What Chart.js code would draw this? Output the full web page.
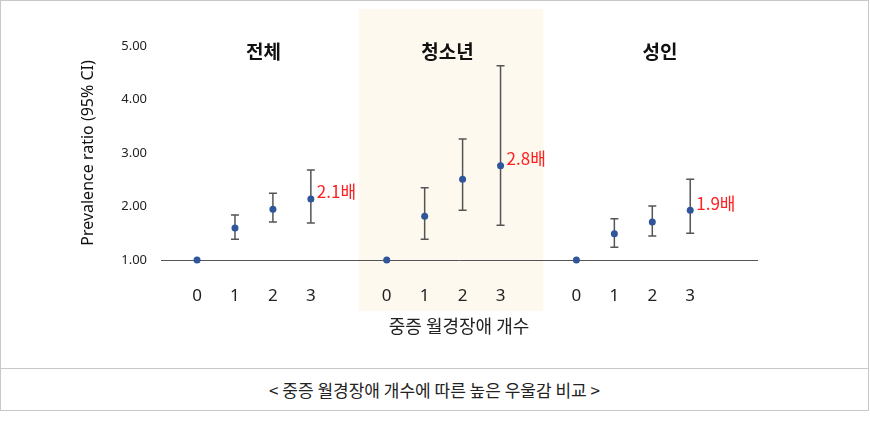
<!DOCTYPE html>
<html><head><meta charset="utf-8">
<script src="https://cdn.jsdelivr.net/npm/chart.js@4"></script>
<style>
body{margin:0;background:#fff;font-family:"Noto Sans CJK KR","Noto Sans",sans-serif;}
#wrap{position:absolute;left:0;top:0;width:867px;height:409px;border:1px solid #c8c8c8;}
#cv{position:absolute;left:0;top:0;}
#cap{position:absolute;left:0;top:367px;width:867px;height:42px;border-top:1px solid #c8c8c8;text-align:center;line-height:42px;font-size:17px;color:#222;}
</style></head><body>
<div id="wrap"><div style="position:absolute;left:0;top:0;width:867px;height:367px"><canvas id="cv"></canvas></div>
<div id="cap">&lt; 중증 월경장애 개수에 따른 높은 우울감 비교 &gt;</div></div>
<script>
const xPositions=[0,1,2,3,5,6,7,8,10,11,12,13];
const xTickLabels=['0','1','2','3','0','1','2','3','0','1','2','3'];
const ratio=[1,1.60,1.95,2.14,1,1.82,2.51,2.76,1,1.49,1.71,1.93];
const lower=[null,1.39,1.71,1.69,null,1.39,1.93,1.65,null,1.24,1.45,1.50];
const upper=[null,1.84,2.25,2.68,null,2.35,3.26,4.63,null,1.77,2.01,2.51];
const groupNames=['전체','청소년','성인'];
const groupTitleX=[1.75,6.6,12.2];
const annotIdx=[3,7,11];
const annotText=['2.1배','2.8배','1.9배'];
const yTicks=[1,2,3,4,5];

const plug={id:'p',
beforeDraw(c){const x=c.scales.x,y=c.scales.y,ctx=c.ctx;
 ctx.save();ctx.fillStyle='#fdf9ee';
 const l=x.getPixelForValue(4.26),r=x.getPixelForValue(9.13);
 ctx.fillRect(l,8,r-l,302);ctx.restore();},
afterDatasetsDraw(c){const x=c.scales.x,y=c.scales.y,ctx=c.ctx;ctx.save();
 ctx.strokeStyle='#555';ctx.lineWidth=1.5;
 xPositions.forEach((p,i)=>{if(lower[i]==null)return;const px=x.getPixelForValue(p);
  const a=y.getPixelForValue(lower[i]),b=y.getPixelForValue(upper[i]);
  ctx.beginPath();ctx.moveTo(px,a);ctx.lineTo(px,b);ctx.moveTo(px-4,a);ctx.lineTo(px+4,a);ctx.moveTo(px-4,b);ctx.lineTo(px+4,b);ctx.stroke();});
 ctx.fillStyle='#2f559a';
 xPositions.forEach((p,i)=>{ctx.beginPath();ctx.arc(x.getPixelForValue(p),y.getPixelForValue(ratio[i]),3.5,0,7);ctx.fill();});
 ctx.fillStyle='#111';ctx.font='bold 19px "Noto Sans CJK KR"';ctx.textAlign='center';ctx.textBaseline='middle';
 groupNames.forEach((g,i)=>ctx.fillText(g,x.getPixelForValue(groupTitleX[i]),y.getPixelForValue(4.9)));
 ctx.fillStyle='#ff2020';ctx.font='17px "Noto Sans CJK KR"';ctx.textAlign='left';
 annotIdx.forEach((k,i)=>ctx.fillText(annotText[i],x.getPixelForValue(xPositions[k])+6,y.getPixelForValue(ratio[k])-7));
 ctx.restore();}};

new Chart(document.getElementById('cv'),{type:'scatter',
data:{datasets:[{data:xPositions.map((p,i)=>({x:p,y:ratio[i]})),pointRadius:0,showLine:false}]},
options:{responsive:true,maintainAspectRatio:false,animation:false,
layout:{padding:{top:45,right:111,left:78,bottom:27}},
plugins:{legend:{display:false},tooltip:{enabled:false}},
scales:{
 x:{type:'linear',min:-0.95,max:14.76,afterBuildTicks(s){s.ticks=xPositions.map(v=>({value:v}));},
  ticks:{autoSkip:false,padding:26,color:'#222',font:{size:17,family:'"Noto Sans"'},callback:(v)=>xTickLabels[xPositions.indexOf(v)]},
  grid:{display:false,drawTicks:false},border:{color:'#555',width:1},
  title:{display:true,text:'중증 월경장애 개수',color:'#222',font:{size:18,family:'"Noto Sans CJK KR"'},padding:{top:8}},
  afterFit(s){s.height=81;}},
 y:{min:1,max:5,afterBuildTicks(s){s.ticks=yTicks.map(v=>({value:v}));},
  ticks:{padding:14,color:'#222',font:{size:13,family:'"Noto Sans"'},callback:v=>v.toFixed(2)},
  grid:{display:false,drawTicks:false},border:{display:false},
  title:{display:true,text:'Prevalence ratio (95% CI)',color:'#111',font:{size:16,family:'"Noto Sans"'},padding:0},
  afterFit(s){s.width=82;}}}},
plugins:[plug]});
</script></body></html>
